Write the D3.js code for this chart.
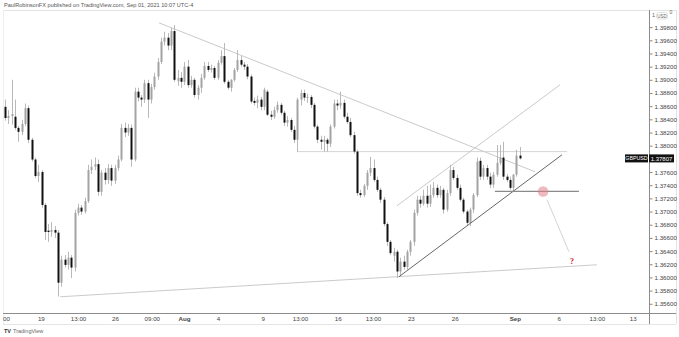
<!DOCTYPE html>
<html>
<head>
<meta charset="utf-8">
<script src="https://cdn.jsdelivr.net/npm/d3@7"></script>
<style>
  body { margin: 0; background: #fff; }
  svg { display: block; font-family: "Liberation Sans", Arial, sans-serif; }
</style>
</head>
<body>
<div id="chart"></div>
<script>
// GBPUSD candles, one entry per bar
const opens = [
  1.3859, 1.3842, 1.3845, 1.3844, 1.3827, 1.3821, 1.3833, 1.3857, 1.3809, 1.3779,
  1.3754, 1.3760, 1.3710, 1.3671, 1.3669, 1.3672, 1.3668, 1.3592, 1.3627, 1.3619,
  1.3630, 1.3615, 1.3698, 1.3706, 1.3700, 1.3716, 1.3763, 1.3768, 1.3772, 1.3730,
  1.3759, 1.3748, 1.3766, 1.3747, 1.3766, 1.3779, 1.3827, 1.3820, 1.3827, 1.3779,
  1.3882, 1.3873, 1.3870, 1.3895, 1.3870, 1.3889, 1.3905, 1.3927, 1.3958, 1.3964,
  1.3952, 1.3974, 1.3898, 1.3903, 1.3897, 1.3920, 1.3892, 1.3900, 1.3877, 1.3888,
  1.3903, 1.3921, 1.3915, 1.3918, 1.3903, 1.3926, 1.3936, 1.3897, 1.3888, 1.3900,
  1.3915, 1.3930, 1.3923, 1.3920, 1.3905, 1.3868, 1.3865, 1.3870, 1.3859, 1.3882,
  1.3847, 1.3844, 1.3854, 1.3862, 1.3850, 1.3835, 1.3839, 1.3824, 1.3809, 1.3870,
  1.3880, 1.3873, 1.3874, 1.3862, 1.3829, 1.3809, 1.3806, 1.3809, 1.3803, 1.3829,
  1.3864, 1.3861, 1.3865, 1.3844, 1.3836, 1.3816, 1.3791, 1.3728, 1.3725, 1.3739,
  1.3759, 1.3766, 1.3748, 1.3733, 1.3718, 1.3681, 1.3654, 1.3633, 1.3639, 1.3609,
  1.3624, 1.3616, 1.3639, 1.3654, 1.3698, 1.3718, 1.3712, 1.3724, 1.3712, 1.3725,
  1.3736, 1.3725, 1.3733, 1.3703, 1.3728, 1.3763, 1.3751, 1.3736, 1.3718, 1.3700,
  1.3683, 1.3703, 1.3725, 1.3777, 1.3753, 1.3766, 1.3753, 1.3741, 1.3756, 1.3774,
  1.3782, 1.3753, 1.3748, 1.3736, 1.3756, 1.3785
];
const highs = [
  1.3870, 1.3854, 1.3900, 1.3870, 1.3830, 1.3839, 1.3864, 1.3861, 1.3812, 1.3782,
  1.3771, 1.3763, 1.3713, 1.3681, 1.3684, 1.3678, 1.3672, 1.3633, 1.3634, 1.3639,
  1.3634, 1.3703, 1.3712, 1.3710, 1.3721, 1.3771, 1.3779, 1.3782, 1.3779, 1.3763,
  1.3766, 1.3772, 1.3771, 1.3771, 1.3785, 1.3833, 1.3835, 1.3833, 1.3832, 1.3888,
  1.3888, 1.3877, 1.3900, 1.3900, 1.3894, 1.3911, 1.3933, 1.3964, 1.3973, 1.3971,
  1.3979, 1.3983, 1.3915, 1.3912, 1.3927, 1.3930, 1.3906, 1.3903, 1.3892, 1.3909,
  1.3927, 1.3927, 1.3923, 1.3921, 1.3930, 1.3945, 1.3956, 1.3900, 1.3901, 1.3918,
  1.3945, 1.3936, 1.3927, 1.3924, 1.3908, 1.3873, 1.3876, 1.3874, 1.3888, 1.3885,
  1.3853, 1.3859, 1.3867, 1.3865, 1.3853, 1.3845, 1.3842, 1.3830, 1.3873, 1.3885,
  1.3885, 1.3879, 1.3877, 1.3865, 1.3832, 1.3815, 1.3815, 1.3812, 1.3832, 1.3870,
  1.3870, 1.3882, 1.3870, 1.3850, 1.3842, 1.3821, 1.3794, 1.3733, 1.3742, 1.3763,
  1.3783, 1.3779, 1.3753, 1.3736, 1.3722, 1.3684, 1.3657, 1.3645, 1.3642, 1.3630,
  1.3633, 1.3642, 1.3657, 1.3703, 1.3724, 1.3724, 1.3733, 1.3739, 1.3741, 1.3745,
  1.3741, 1.3739, 1.3736, 1.3733, 1.3771, 1.3768, 1.3756, 1.3741, 1.3721, 1.3703,
  1.3706, 1.3728, 1.3782, 1.3782, 1.3771, 1.3771, 1.3759, 1.3760, 1.3801, 1.3801,
  1.3806, 1.3757, 1.3753, 1.3757, 1.3794, 1.3798
];
const lows = [
  1.3838, 1.3833, 1.3832, 1.3824, 1.3806, 1.3816, 1.3830, 1.3804, 1.3776, 1.3751,
  1.3745, 1.3706, 1.3657, 1.3654, 1.3662, 1.3660, 1.3571, 1.3586, 1.3615, 1.3612,
  1.3599, 1.3609, 1.3694, 1.3695, 1.3697, 1.3713, 1.3757, 1.3763, 1.3724, 1.3724,
  1.3741, 1.3742, 1.3739, 1.3742, 1.3762, 1.3776, 1.3813, 1.3815, 1.3768, 1.3776,
  1.3867, 1.3859, 1.3865, 1.3842, 1.3864, 1.3885, 1.3900, 1.3924, 1.3952, 1.3945,
  1.3945, 1.3897, 1.3891, 1.3888, 1.3892, 1.3888, 1.3888, 1.3873, 1.3870, 1.3880,
  1.3900, 1.3912, 1.3911, 1.3900, 1.3900, 1.3923, 1.3894, 1.3885, 1.3882, 1.3897,
  1.3912, 1.3920, 1.3915, 1.3901, 1.3864, 1.3861, 1.3857, 1.3854, 1.3854, 1.3845,
  1.3839, 1.3841, 1.3850, 1.3847, 1.3830, 1.3829, 1.3821, 1.3804, 1.3791, 1.3861,
  1.3868, 1.3865, 1.3857, 1.3826, 1.3804, 1.3794, 1.3791, 1.3791, 1.3798, 1.3826,
  1.3854, 1.3856, 1.3841, 1.3833, 1.3813, 1.3788, 1.3724, 1.3721, 1.3722, 1.3733,
  1.3754, 1.3745, 1.3730, 1.3713, 1.3678, 1.3648, 1.3634, 1.3624, 1.3599, 1.3602,
  1.3612, 1.3612, 1.3633, 1.3648, 1.3694, 1.3706, 1.3709, 1.3706, 1.3707, 1.3721,
  1.3721, 1.3721, 1.3697, 1.3700, 1.3724, 1.3748, 1.3733, 1.3715, 1.3697, 1.3678,
  1.3678, 1.3698, 1.3722, 1.3748, 1.3748, 1.3748, 1.3736, 1.3736, 1.3753, 1.3771,
  1.3748, 1.3745, 1.3733, 1.3731, 1.3753, 1.3779
];
const closes = [
  1.3842, 1.3845, 1.3848, 1.3827, 1.3821, 1.3833, 1.3857, 1.3809, 1.3779, 1.3754,
  1.3760, 1.3710, 1.3669, 1.3669, 1.3672, 1.3668, 1.3592, 1.3627, 1.3619, 1.3630,
  1.3615, 1.3698, 1.3706, 1.3700, 1.3716, 1.3763, 1.3768, 1.3772, 1.3730, 1.3759,
  1.3748, 1.3766, 1.3747, 1.3766, 1.3779, 1.3827, 1.3820, 1.3827, 1.3779, 1.3882,
  1.3873, 1.3870, 1.3895, 1.3870, 1.3889, 1.3905, 1.3927, 1.3958, 1.3964, 1.3952,
  1.3974, 1.3900, 1.3903, 1.3897, 1.3920, 1.3892, 1.3900, 1.3877, 1.3888, 1.3903,
  1.3921, 1.3915, 1.3918, 1.3903, 1.3926, 1.3936, 1.3897, 1.3888, 1.3900, 1.3915,
  1.3930, 1.3923, 1.3920, 1.3905, 1.3867, 1.3865, 1.3870, 1.3859, 1.3885, 1.3847,
  1.3844, 1.3854, 1.3862, 1.3850, 1.3835, 1.3839, 1.3824, 1.3809, 1.3870, 1.3880,
  1.3873, 1.3874, 1.3862, 1.3829, 1.3809, 1.3806, 1.3809, 1.3803, 1.3829, 1.3864,
  1.3861, 1.3865, 1.3844, 1.3836, 1.3816, 1.3791, 1.3728, 1.3725, 1.3739, 1.3759,
  1.3766, 1.3748, 1.3733, 1.3718, 1.3681, 1.3654, 1.3637, 1.3639, 1.3609, 1.3624,
  1.3616, 1.3639, 1.3654, 1.3698, 1.3718, 1.3712, 1.3724, 1.3712, 1.3725, 1.3736,
  1.3725, 1.3733, 1.3703, 1.3728, 1.3763, 1.3751, 1.3736, 1.3718, 1.3700, 1.3683,
  1.3703, 1.3725, 1.3776, 1.3753, 1.3766, 1.3753, 1.3741, 1.3756, 1.3774, 1.3782,
  1.3753, 1.3748, 1.3736, 1.3756, 1.3785, 1.37807
];

// 1.37800 sits under the last price tag, so the picture does not show it
const priceTicks = [1.398, 1.396, 1.394, 1.392, 1.390, 1.388, 1.386, 1.384, 1.382, 1.380,
  1.376, 1.374, 1.372, 1.370, 1.368, 1.366, 1.364, 1.362, 1.360, 1.358, 1.356];
const timeTickBars = [0.3, 10.8, 22, 33.1, 44.2, 53.9, 64.1, 77.6, 88.8, 100.2, 110.8, 122.2, 135.4, 153.5, 166.7, 178.2, 189];
const timeTickLabels = ["00", "19", "13:00", "26", "09:00", "Aug", "4", "9", "13:00", "16", "13:00", "23", "26", "Sep", "6", "13:00", "13"];

// hand drawn annotations: [bar, price] end points
const fallingLine = [[46.4, 1.39865], [159.6, 1.37604]];
const resistanceLine = [[87.9, 1.3791], [169.2, 1.3791]];
const channelTop = [[118.0, 1.37088], [167.1, 1.38924]];
const channelBottom = [[118.6, 1.3601], [167.7, 1.37862]];
const breakLevel = [[147.5, 1.37305], [172.8, 1.37305]];
const supportLine = [[16.6, 1.35706], [178.2, 1.36192]];
const targetPath = [[163.2, 1.37179], [169.8, 1.36389]];
const markerPoint = [162.0, 1.37304];
const questionPoint = [170.7, 1.3620];

function drawChart() {
    const W = 679, H = 337;
    const plot = { left: 3, right: 649, top: 10, bottom: 313 };

    const svg = d3.select("#chart").append("svg")
        .attr("width", W)
        .attr("height", H);

    const x = d3.scaleLinear()
        .domain([-0.6, 193.9])
        .range([plot.left, plot.right]);

    const y = d3.scaleLinear()
        .domain([1.3546, 1.4006])
        .range([plot.bottom, plot.top]);

    // frame
    svg.append("text")
        .attr("x", 4).attr("y", 7)
        .attr("font-size", 5.6)
        .attr("fill", "#555")
        .text("PaulRobinsonFX published on TradingView.com, Sep 01, 2021 10:07 UTC-4");

    svg.append("line")
        .attr("x1", plot.left).attr("x2", 676)
        .attr("y1", 10.5).attr("y2", 10.5)
        .attr("stroke", "#e3e3e3");
    svg.append("line")
        .attr("x1", 676.5).attr("x2", 676.5)
        .attr("y1", 10).attr("y2", 324)
        .attr("stroke", "#e3e3e3");
    svg.append("line")
        .attr("x1", 3.5).attr("x2", 3.5)
        .attr("y1", 10).attr("y2", 324)
        .attr("stroke", "#eeeeee");
    svg.append("line")
        .attr("x1", plot.left).attr("x2", 676)
        .attr("y1", 324.5).attr("y2", 324.5)
        .attr("stroke", "#e6e6e6");

    // price axis
    const yAxis = d3.axisRight(y)
        .tickValues(priceTicks)
        .tickFormat(d3.format(".5f"))
        .tickSize(3)
        .tickPadding(2);

    const yg = svg.append("g")
        .attr("transform", `translate(${plot.right + 0.5},0)`)
        .call(yAxis);
    yg.select(".domain").remove();
    yg.selectAll(".tick line").attr("stroke", "#888");
    yg.selectAll("text")
        .attr("font-size", 6.2)
        .attr("fill", "#444");

    svg.append("line")
        .attr("x1", plot.right + 0.5).attr("x2", plot.right + 0.5)
        .attr("y1", 10).attr("y2", 324)
        .attr("stroke", "#8c8c8c");

    // time axis
    const xAxis = d3.axisBottom(x)
        .tickValues(timeTickBars)
        .tickFormat((d, i) => timeTickLabels[i])
        .tickSize(0)
        .tickPadding(4);

    const xg = svg.append("g")
        .attr("transform", `translate(0,${plot.bottom})`)
        .call(xAxis);
    xg.select(".domain").remove();
    xg.selectAll("text")
        .attr("font-size", 6.2)
        .attr("fill", "#444")
        .attr("font-weight", (d, i) => (timeTickLabels[i] === "Aug" || timeTickLabels[i] === "Sep") ? "bold" : null);

    svg.append("line")
        .attr("x1", plot.left).attr("x2", 676)
        .attr("y1", plot.bottom + 0.5).attr("y2", plot.bottom + 0.5)
        .attr("stroke", "#8c8c8c");

    // tradingview mark
    svg.append("text")
        .attr("x", 4).attr("y", 333)
        .attr("font-size", 5.5)
        .attr("font-weight", "bold")
        .attr("fill", "#333")
        .text("TV");
    svg.append("text")
        .attr("x", 13).attr("y", 333)
        .attr("font-size", 5.5)
        .attr("fill", "#666")
        .text("TradingView");

    // currency badge
    svg.append("text")
        .attr("x", 652).attr("y", 16.5)
        .attr("font-size", 5.5).attr("fill", "#666").text("1");
    svg.append("rect")
        .attr("x", 656.5).attr("y", 12.5)
        .attr("width", 11).attr("height", 6.5)
        .attr("rx", 2)
        .attr("fill", "#fff").attr("stroke", "#ccc").attr("stroke-width", 0.6);
    svg.append("text")
        .attr("x", 662).attr("y", 17.5)
        .attr("text-anchor", "middle")
        .attr("font-size", 4.5).attr("fill", "#666").text("USD");
    svg.append("text")
        .attr("x", 669.5).attr("y", 14)
        .attr("font-size", 5).attr("fill", "#666").text("0");

    // annotation lines behind candles
    const seg = (pts, stroke, width) => svg.append("line")
        .attr("x1", x(pts[0][0])).attr("y1", y(pts[0][1]))
        .attr("x2", x(pts[1][0])).attr("y2", y(pts[1][1]))
        .attr("stroke", stroke)
        .attr("stroke-width", width);

    seg(fallingLine, "#c4c4c4", 0.9);
    seg(resistanceLine, "#cfcfcf", 0.9);
    seg(channelTop, "#c4c4c4", 0.9);
    seg(supportLine, "#c4c4c4", 0.9);

    // candles
    const bars = d3.range(closes.length).map(i => ({
        i, o: opens[i], h: highs[i], l: lows[i], c: closes[i]
    }));

    const candle = svg.append("g").selectAll("g")
        .data(bars)
        .enter()
        .append("g");

    candle.append("line")
        .attr("x1", d => Math.round(x(d.i)) + 0.5)
        .attr("x2", d => Math.round(x(d.i)) + 0.5)
        .attr("y1", d => y(d.h))
        .attr("y2", d => y(d.l))
        .attr("stroke", "#b9b9b9")
        .attr("stroke-width", 1);

    candle.append("rect")
        .attr("x", d => Math.round(x(d.i)) - 0.5)
        .attr("width", 2)
        .attr("y", d => y(Math.max(d.o, d.c)))
        .attr("height", d => Math.max(1, Math.abs(y(d.o) - y(d.c))))
        .attr("fill", d => d.c >= d.o ? "#a3a3a3" : "#111");

    // annotations on top
    seg(channelBottom, "#555", 0.9);
    seg(breakLevel, "#8a8a8a", 1.3);
    seg(targetPath, "#c9c9c9", 0.8);

    svg.append("circle")
        .attr("cx", x(markerPoint[0]))
        .attr("cy", y(markerPoint[1]))
        .attr("r", 5.3)
        .attr("fill", "#e07f8a")
        .attr("fill-opacity", 0.55);

    svg.append("text")
        .attr("x", x(questionPoint[0]))
        .attr("y", y(questionPoint[1]))
        .attr("text-anchor", "middle")
        .attr("font-size", 8)
        .attr("font-weight", "bold")
        .attr("font-family", "Liberation Serif, serif")
        .attr("fill", "#d0262b")
        .text("?");

    // last price label
    const last = closes[closes.length - 1];
    const ly = y(last);
    svg.append("rect")
        .attr("x", 625).attr("y", ly - 4)
        .attr("width", 23).attr("height", 8)
        .attr("fill", "#111");
    svg.append("text")
        .attr("x", 636.5).attr("y", ly + 2)
        .attr("text-anchor", "middle")
        .attr("font-size", 5.3)
        .attr("fill", "#fff")
        .text("GBPUSD");
    svg.append("rect")
        .attr("x", 649).attr("y", ly - 4)
        .attr("width", 25).attr("height", 8)
        .attr("fill", "#111");
    svg.append("text")
        .attr("x", 661.5).attr("y", ly + 2.2)
        .attr("text-anchor", "middle")
        .attr("font-size", 6)
        .attr("fill", "#fff")
        .text(d3.format(".5f")(last));
}

window.addEventListener("load", drawChart);
</script>
</body>
</html>
